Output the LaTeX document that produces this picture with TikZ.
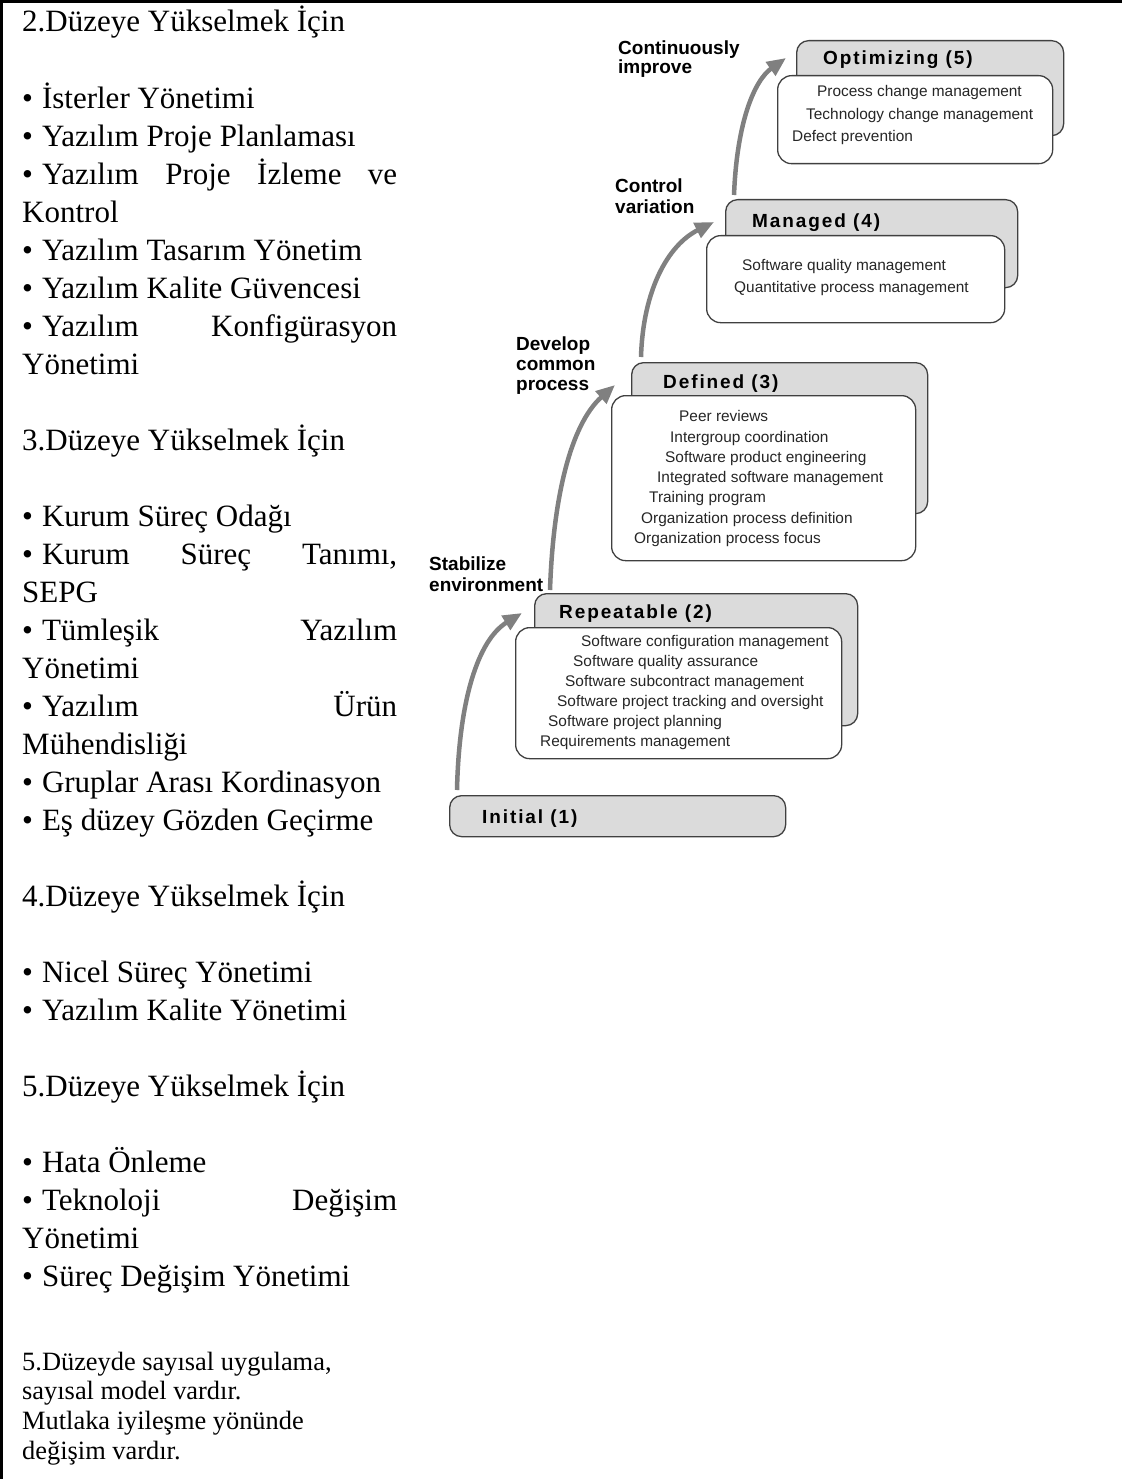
\documentclass[tikz,border=0pt]{standalone}
\usepackage{fontspec}
\setmainfont{Liberation Serif}
\newfontfamily\labelsans{Liberation Sans}
\newfontfamily\titlesans[LetterSpace=10]{Liberation Sans}
\usetikzlibrary{arrows.meta}
\newcommand{\blt}{\textbullet\hspace{9pt}}
\newcommand{\jline}[1]{\makebox[\linewidth][s]{#1}}

\begin{document}
\begin{tikzpicture}[x=1pt,y=-1pt,
  backbox/.style={draw=black!75, line width=1.3pt, fill=black!14, rounded corners=12pt,
                  anchor=north west, inner sep=0pt},
  frontbox/.style={draw=black!75, line width=1.3pt, fill=white, rounded corners=14pt,
                   anchor=north west, inner sep=0pt},
  leveltitle/.style={anchor=base west, inner sep=0pt,
                     font=\titlesans\bfseries\fontsize{19pt}{19pt}\selectfont},
  practice/.style={anchor=base west, inner sep=0pt, text=black!85,
                   font=\labelsans\fontsize{15.4pt}{18pt}\selectfont},
  steplabel/.style={anchor=base west, inner sep=0pt,
                    font=\labelsans\bfseries\fontsize{19pt}{19pt}\selectfont},
  stairarrow/.style={draw=black!50, line width=4.5pt,
                     -{Triangle[length=19pt,width=16pt]}}]

\useasboundingbox (0,0) rectangle (1122,1479);

% page frame (top and left rules)
\draw[line width=3pt] (1.5,1479) -- (1.5,1.5) -- (1122,1.5);

% ---------- notes column ----------
\node[anchor=base west, inner sep=0pt] (notes) at (22,32) {\parbox[t]{375pt}{%
\fontsize{31pt}{38.03pt}\selectfont\setlength{\parindent}{0pt}%
2.Düzeye Yükselmek İçin\\
\mbox{}\\
\blt İsterler Yönetimi\\
\blt Yazılım Proje Planlaması\\
\jline{\blt Yazılım Proje İzleme ve}\\
Kontrol\\
\blt Yazılım Tasarım Yönetim\\
\blt Yazılım Kalite Güvencesi\\
\jline{\blt Yazılım Konfigürasyon}\\
Yönetimi\\
\mbox{}\\
3.Düzeye Yükselmek İçin\\
\mbox{}\\
\blt Kurum Süreç Odağı\\
\jline{\blt Kurum Süreç Tanımı,}\\
SEPG\\
\jline{\blt Tümleşik Yazılım}\\
Yönetimi\\
\jline{\blt Yazılım Ürün}\\
Mühendisliği\\
\blt Gruplar Arası Kordinasyon\\
\blt Eş düzey Gözden Geçirme\\
\mbox{}\\
4.Düzeye Yükselmek İçin\\
\mbox{}\\
\blt Nicel Süreç Yönetimi\\
\blt Yazılım Kalite Yönetimi\\
\mbox{}\\
5.Düzeye Yükselmek İçin\\
\mbox{}\\
\blt Hata Önleme\\
\jline{\blt Teknoloji Değişim}\\
Yönetimi\\
\blt Süreç Değişim Yönetimi}};

\node[anchor=base west, inner sep=0pt] (closing) at (22,1370) {\parbox[t]{375pt}{%
\fontsize{26.4pt}{29.7pt}\selectfont\setlength{\parindent}{0pt}%
5.Düzeyde sayısal uygulama,\\
sayısal model vardır.\\
Mutlaka iyileşme yönünde\\
değişim vardır.}};

% ---------- maturity staircase ----------
% Initial (1)
\node[backbox, minimum width=336pt, minimum height=41pt] (init) at (449,795) {};
\node[leveltitle] (init-title) at (482,823) {Initial (1)};

% Repeatable (2)
\node[backbox, minimum width=323pt, minimum height=132pt] (rep-back) at (534,593) {};
\node[frontbox, minimum width=326pt, minimum height=131pt] (rep-front) at (515,627) {};
\node[leveltitle] (rep-title) at (559,618) {Repeatable (2)};
\foreach \x/\y/\t [count=\i] in {
  581/646/Software configuration management,
  573/666/Software quality assurance,
  565/686/Software subcontract management,
  557/706/Software project tracking and oversight,
  548/726/Software project planning,
  540/746/Requirements management}
  \node[practice] (rep-\i) at (\x,\y) {\t};

% Defined (3)
\node[backbox, minimum width=296pt, minimum height=151pt] (def-back) at (631,362) {};
\node[frontbox, minimum width=304pt, minimum height=165pt] (def-front) at (611,395) {};
\node[leveltitle] (def-title) at (663,388) {Defined (3)};
\foreach \x/\y/\t [count=\i] in {
  679/421/Peer reviews,
  670/442/Intergroup coordination,
  665/462/Software product engineering,
  657/482/Integrated software management,
  649/502/Training program,
  641/523/Organization process definition,
  634/543/Organization process focus}
  \node[practice] (def-\i) at (\x,\y) {\t};

% Managed (4)
\node[backbox, minimum width=292pt, minimum height=88pt] (man-back) at (725,199) {};
\node[frontbox, minimum width=298pt, minimum height=87pt] (man-front) at (706,235) {};
\node[leveltitle] (man-title) at (752,228) {Managed (4)};
\foreach \x/\y/\t [count=\i] in {
  742/270/Software quality management,
  734/292/Quantitative process management}
  \node[practice] (man-\i) at (\x,\y) {\t};

% Optimizing (5)
\node[backbox, minimum width=267pt, minimum height=95pt] (opt-back) at (796,40) {};
\node[frontbox, minimum width=275pt, minimum height=88pt] (opt-front) at (777,75) {};
\node[leveltitle] (opt-title) at (823,65) {Optimizing (5)};
\foreach \x/\y/\t [count=\i] in {
  817/97/Process change management,
  806/120/Technology change management,
  792/142/Defect prevention}
  \node[practice] (opt-\i) at (\x,\y) {\t};

% step labels
\node[steplabel] (lab-stab1) at (429,570) {Stabilize};
\node[steplabel] (lab-stab2) at (429,591) {environment};
\node[steplabel] (lab-dev1) at (516,350) {Develop};
\node[steplabel] (lab-dev2) at (516,370) {common};
\node[steplabel] (lab-dev3) at (516,390) {process};
\node[steplabel] (lab-ctl1) at (615,193) {Control};
\node[steplabel] (lab-ctl2) at (615,214) {variation};
\node[steplabel] (lab-imp1) at (618,55) {Continuously};
\node[steplabel] (lab-imp2) at (618,74) {improve};

% rising arrows between levels
\coordinate (a2s) at (457,790);  \coordinate (a2e) at (522,613);
\coordinate (a3s) at (550,590);  \coordinate (a3e) at (615,385);
\coordinate (a4s) at (641,357);  \coordinate (a4e) at (714,222);
\coordinate (a5s) at (734,195);  \coordinate (a5e) at (786,58);
\draw[stairarrow] (a2s) .. controls (459,700) and (478,640) .. (a2e);
\draw[stairarrow] (a3s) .. controls (553,500) and (570,425) .. (a3e);
\draw[stairarrow] (a4s) .. controls (643,290) and (668,245) .. (a4e);
\draw[stairarrow] (a5s) .. controls (737,120) and (755,80) .. (a5e);

\end{tikzpicture}
\end{document}
